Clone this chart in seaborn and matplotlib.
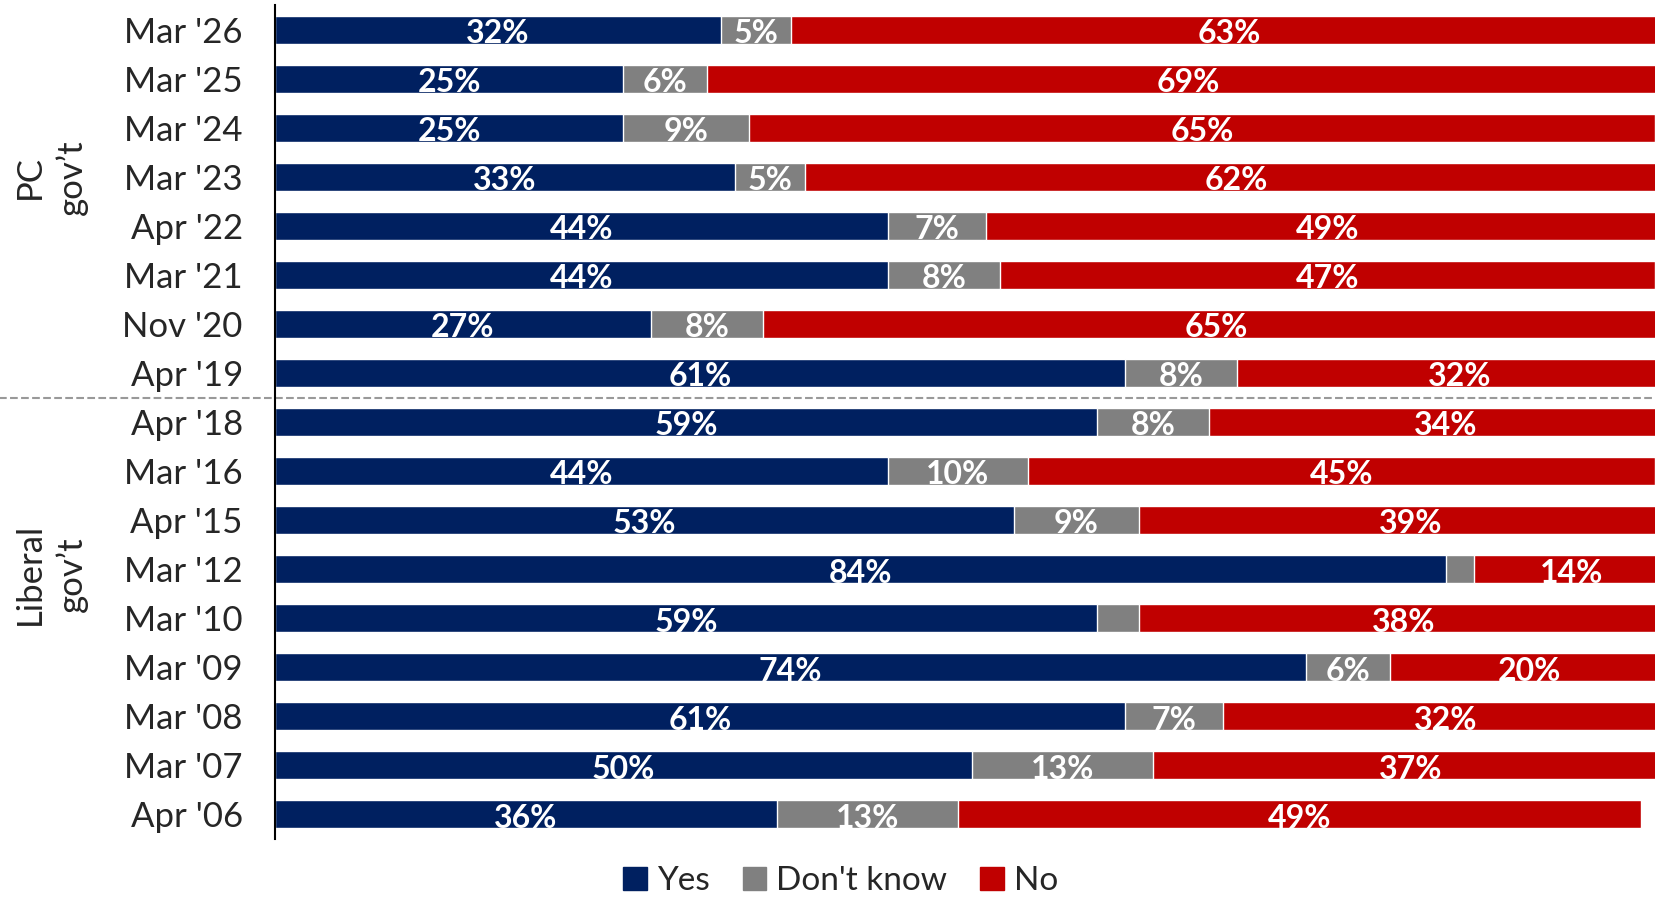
import matplotlib
matplotlib.use("Agg")
import matplotlib.pyplot as plt
import matplotlib.transforms as mtransforms
from matplotlib.patches import Patch
import seaborn as sns
import numpy as np

periods = ["Mar '26", "Mar '25", "Mar '24", "Mar '23", "Apr '22", "Mar '21", "Nov '20", "Apr '19",
           "Apr '18", "Mar '16", "Apr '15", "Mar '12", "Mar '10", "Mar '09", "Mar '08", "Mar '07", "Apr '06"]
yes = [32, 25, 25, 33, 44, 44, 27, 61, 59, 44, 53, 84, 59, 74, 61, 50, 36]
dont_know = [5, 6, 9, 5, 7, 8, 8, 8, 8, 10, 9, 2, 3, 6, 7, 13, 13]
no = [63, 69, 65, 62, 49, 47, 65, 32, 34, 45, 39, 14, 38, 20, 32, 37, 49]
groups = ["PC\ngov\u2019t", "Liberal\ngov\u2019t"]

c_yes, c_dk, c_no = "#002060", "#808080", "#C00000"

sns.set_style("white")
plt.rcParams["font.family"] = ["Lato", "DejaVu Sans"]

yes = np.array(yes)
dk = np.array(dont_know)
no_ = np.array(no)
total = yes + dk + no_

fig = plt.figure(figsize=(16.55, 8.97), dpi=100)
ax = fig.add_axes([0.166, 0.065, 0.834, 0.929])

# stacked bars: draw the running totals back to front
sns.barplot(x=total, y=periods, orient="h", color=c_no, width=0.56, ax=ax, saturation=1)
sns.barplot(x=yes + dk, y=periods, orient="h", color=c_dk, width=0.56, ax=ax, saturation=1)
sns.barplot(x=yes, y=periods, orient="h", color=c_yes, width=0.56, ax=ax, saturation=1)

lab = dict(color="white", fontsize=23, fontweight="bold", ha="center", va="center")
for i in range(len(periods)):
    ax.text(yes[i] / 2, i + 0.08, f"{yes[i]}%", **lab)
    if dk[i] >= 5:
        ax.text(yes[i] + dk[i] / 2, i + 0.08, f"{dk[i]}%", **lab)
    ax.text(yes[i] + dk[i] + no_[i] / 2, i + 0.08, f"{no_[i]}%", **lab)

ax.set_xlim(0, 99)
ax.set_ylim(len(periods) - 0.5, -0.5)
ax.set_xticks([])
ax.set_xlabel("")
ax.set_ylabel("")
ax.tick_params(axis="y", length=0, labelsize=25, pad=23)
for s in ["top", "right", "bottom"]:
    ax.spines[s].set_visible(False)
ax.spines["left"].set_color("black")
ax.spines["left"].set_linewidth(1.5)

ax.axhline(7.5, xmin=-0.2, xmax=1, clip_on=False, ls="--", color="#999999", lw=1.5)

tr = mtransforms.blended_transform_factory(fig.transFigure, ax.transData)
ax.text(0.031, 3.0, groups[0], transform=tr, rotation=90, ha="center", va="center",
        fontsize=25, multialignment="center", linespacing=1.35)
ax.text(0.031, 11.1, groups[1], transform=tr, rotation=90, ha="center", va="center",
        fontsize=25, multialignment="center", linespacing=1.35)

handles = [Patch(color=c_yes, label="Yes"), Patch(color=c_dk, label="Don't know"),
           Patch(color=c_no, label="No")]
fig.legend(handles=handles, loc="center", bbox_to_anchor=(0.508, 0.018), ncol=3, frameon=False,
           fontsize=24, handlelength=0.7, handleheight=0.7, handletextpad=0.3, columnspacing=1.0,
           borderpad=0.1)

fig.savefig("out.png", dpi=100)
